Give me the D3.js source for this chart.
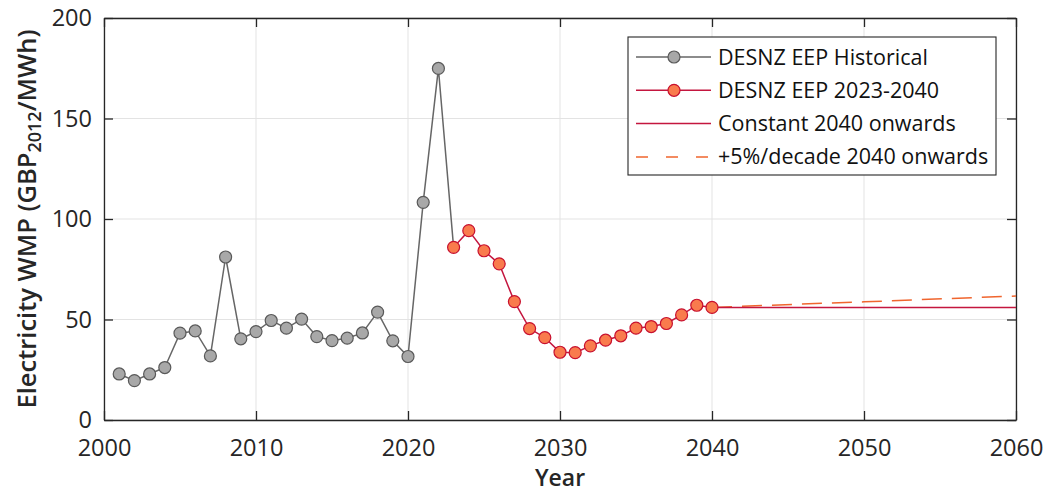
<!DOCTYPE html>
<html>
<head>
<meta charset="utf-8">
<script src="https://cdn.jsdelivr.net/npm/d3@7"></script>
<style>
  body { margin: 0; background: #fff; }
  svg { font-family: "Open Sans", "Noto Sans", sans-serif; }
</style>
</head>
<body>
<svg id="chart"></svg>
<script>
// historical DESNZ EEP (2023 included so the grey line runs into the forecast)
const histYears = [2001, 2002, 2003, 2004, 2005, 2006, 2007, 2008, 2009, 2010, 2011, 2012,
                   2013, 2014, 2015, 2016, 2017, 2018, 2019, 2020, 2021, 2022, 2023];
const histValues = [22.9, 19.6, 22.9, 26.1, 43.2, 44.3, 31.9, 81.1, 40.4, 44.0, 49.5, 45.7,
                    50.2, 41.5, 39.5, 40.7, 43.3, 53.7, 39.4, 31.6, 108.3, 174.9, 85.9];

const projYears = [2023, 2024, 2025, 2026, 2027, 2028, 2029, 2030, 2031, 2032, 2033,
                   2034, 2035, 2036, 2037, 2038, 2039, 2040];
const projValues = [85.9, 94.2, 84.2, 77.7, 58.9, 45.5, 41.0, 33.7, 33.5, 36.9, 39.7,
                    41.9, 45.7, 46.5, 48.0, 52.3, 57.1, 56.0];

const constYears = [2040, 2060];
const constValues = [56.0, 56.0];

const growthYears = [2040, 2050, 2060];
const growthValues = [56.0, 58.8, 61.7];

const xTicks = [2000, 2010, 2020, 2030, 2040, 2050, 2060];
const yTicks = [0, 50, 100, 150, 200];

const legendLabels = ['DESNZ EEP Historical', 'DESNZ EEP 2023-2040',
                      'Constant 2040 onwards', '+5%/decade 2040 onwards'];

const width = 1059, height = 493;
const margin = { top: 18, right: 43, bottom: 73, left: 104 };
const innerW = width - margin.left - margin.right;
const innerH = height - margin.top - margin.bottom;

const axisColor = '#262626';
const histLine = '#666666', histFill = '#a8a8a8', histStroke = '#595959';
const projLine = '#c4163f', projFill = '#f97b4d', projStroke = '#c8102e';
const dashColor = '#f0652e';

const svg = d3.select('#chart').attr('width', width).attr('height', height);
const g = svg.append('g').attr('transform', `translate(${margin.left},${margin.top})`);

const x = d3.scaleLinear().domain([2000, 2060]).range([0, innerW]);
const y = d3.scaleLinear().domain([0, 200]).range([innerH, 0]);

// grid
g.append('g').selectAll('line').data(xTicks).join('line')
    .attr('x1', d => x(d)).attr('x2', d => x(d))
    .attr('y1', 0).attr('y2', innerH)
    .attr('stroke', '#e3e3e3').attr('stroke-width', 1);
g.append('g').selectAll('line').data(yTicks).join('line')
    .attr('x1', 0).attr('x2', innerW)
    .attr('y1', d => y(d)).attr('y2', d => y(d))
    .attr('stroke', '#e3e3e3').attr('stroke-width', 1);

// axes (ticks inward, MATLAB box style)
const tickLen = 9;
const xAxis = g.append('g').attr('transform', `translate(0,${innerH})`)
    .call(d3.axisBottom(x).tickValues(xTicks).tickFormat(d3.format('d'))
        .tickSizeInner(-tickLen).tickSizeOuter(0).tickPadding(19));
const yAxis = g.append('g')
    .call(d3.axisLeft(y).tickValues(yTicks).tickSizeInner(-tickLen).tickSizeOuter(0).tickPadding(12));
const xTop = g.append('g')
    .call(d3.axisTop(x).tickValues(xTicks).tickFormat('').tickSizeInner(-tickLen).tickSizeOuter(0));
const yRight = g.append('g').attr('transform', `translate(${innerW},0)`)
    .call(d3.axisRight(y).tickValues(yTicks).tickFormat('').tickSizeInner(-tickLen).tickSizeOuter(0));

[xAxis, yAxis, xTop, yRight].forEach(a => {
    a.select('.domain').attr('stroke', axisColor).attr('stroke-width', 1.3);
    a.selectAll('.tick line').attr('stroke', axisColor).attr('stroke-width', 1.3);
    a.selectAll('.tick text').attr('fill', axisColor)
        .style('font-size', '23.5px').style('font-family', '"Open Sans", sans-serif');
});

// lines
const line = d3.line().x(d => x(d[0])).y(d => y(d[1]));
const zip = (a, b) => a.map((v, i) => [v, b[i]]);

g.append('path').datum(zip(growthYears, growthValues))
    .attr('d', line).attr('fill', 'none')
    .attr('stroke', dashColor).attr('stroke-width', 1.5).attr('stroke-dasharray', '20,10');
g.append('path').datum(zip(constYears, constValues))
    .attr('d', line).attr('fill', 'none')
    .attr('stroke', projLine).attr('stroke-width', 1.5);
g.append('path').datum(zip(histYears, histValues))
    .attr('d', line).attr('fill', 'none')
    .attr('stroke', histLine).attr('stroke-width', 1.5);
g.append('path').datum(zip(projYears, projValues))
    .attr('d', line).attr('fill', 'none')
    .attr('stroke', projLine).attr('stroke-width', 1.5);

// markers
g.append('g').selectAll('circle').data(zip(histYears, histValues).slice(0, -1)).join('circle')
    .attr('cx', d => x(d[0])).attr('cy', d => y(d[1])).attr('r', 6)
    .attr('fill', histFill).attr('stroke', histStroke).attr('stroke-width', 1.2);
g.append('g').selectAll('circle').data(zip(projYears, projValues)).join('circle')
    .attr('cx', d => x(d[0])).attr('cy', d => y(d[1])).attr('r', 6)
    .attr('fill', projFill).attr('stroke', projStroke).attr('stroke-width', 1.2);

// axis titles
svg.append('text')
    .attr('x', margin.left + innerW / 2).attr('y', 486)
    .attr('text-anchor', 'middle').attr('fill', axisColor)
    .style('font-size', '23px').style('font-weight', 600)
    .text('Year');

const yLab = svg.append('text')
    .attr('transform', `translate(36,${margin.top + innerH / 2}) rotate(-90)`)
    .attr('text-anchor', 'middle').attr('fill', axisColor)
    .style('font-size', '25.5px').style('font-weight', 600);
yLab.append('tspan').text('Electricity WMP (GBP');
yLab.append('tspan').attr('dy', 5).style('font-size', '18px').text('2012');
yLab.append('tspan').attr('dy', -5).text('/MWh)');

// legend
const lx = 628, ly = 37, lw = 368, lh = 138, rowH = 33.3;
const legend = svg.append('g');
legend.append('rect')
    .attr('x', lx).attr('y', ly).attr('width', lw).attr('height', lh)
    .attr('fill', '#fff').attr('stroke', axisColor).attr('stroke-width', 1.1);

const legendStyles = [
    { stroke: histLine, dash: null, marker: [histFill, histStroke] },
    { stroke: projLine, dash: null, marker: [projFill, projStroke] },
    { stroke: projLine, dash: null, marker: null },
    { stroke: dashColor, dash: '12,18', marker: null }
];

legendLabels.forEach((label, i) => {
    const cy = ly + 20 + i * rowH;
    const s = legendStyles[i];
    legend.append('line')
        .attr('x1', lx + 8).attr('x2', lx + 83).attr('y1', cy).attr('y2', cy)
        .attr('stroke', s.stroke).attr('stroke-width', 1.5)
        .attr('stroke-dasharray', s.dash);
    if (s.marker) {
        legend.append('circle').attr('cx', lx + 46).attr('cy', cy).attr('r', 6)
            .attr('fill', s.marker[0]).attr('stroke', s.marker[1]).attr('stroke-width', 1.2);
    }
    legend.append('text')
        .attr('x', lx + 90).attr('y', cy).attr('dy', '0.35em')
        .attr('fill', '#111').style('font-size', '21.5px')
        .text(label);
});
</script>
</body>
</html>
